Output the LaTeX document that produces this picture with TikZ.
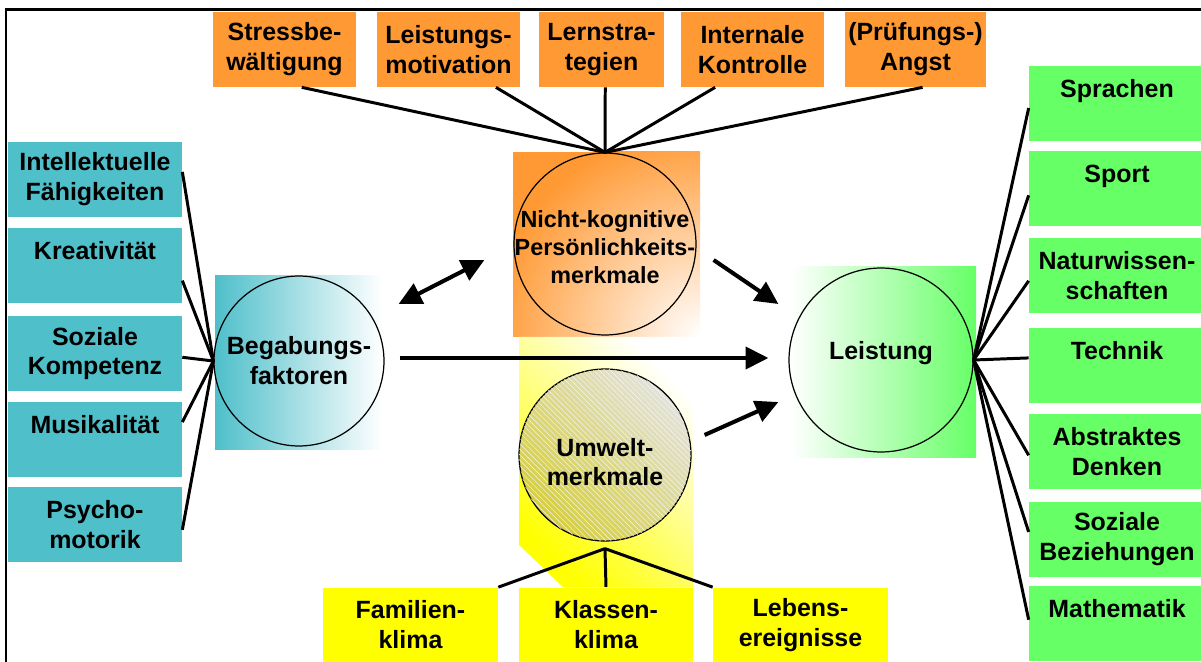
\documentclass[tikz,border=0pt]{standalone}
\usepackage{fontspec}
\setmainfont{Liberation Sans}
\usetikzlibrary{arrows.meta}
\usetikzlibrary{calc}
\usetikzlibrary{patterns.meta}

\definecolor{orangefill}{RGB}{255,153,51}
\definecolor{tealfill}{RGB}{79,191,202}
\definecolor{greenfill}{RGB}{102,255,102}
\definecolor{yellowfill}{RGB}{255,255,0}
\definecolor{olivefill}{RGB}{214,206,60}
\definecolor{greyfill}{RGB}{226,226,218}

\tikzset{
  txt/.style={font=\bfseries\fontsize{14.2}{17}\selectfont, align=center},
  infobox/.style={txt, inner sep=0pt, minimum height=1.5cm},
  orangebox/.style={infobox, fill=orangefill, minimum width=#1},
  tealbox/.style={infobox, fill=tealfill, minimum width=3.48cm},
  greenbox/.style={infobox, fill=greenfill, minimum width=3.52cm},
  yellowbox/.style={infobox, fill=yellowfill, minimum width=3.5cm},
  ring/.style={circle, draw, line width=0.7pt, inner sep=0pt, minimum size=#1},
  fan/.style={line width=1.7pt},
  bigarrow/.style={line width=2.3pt, -{Triangle[length=13pt,width=12.5pt]}},
  botharrow/.style={line width=2.3pt, {Triangle[length=13pt,width=12.5pt]}-{Triangle[length=13pt,width=12.5pt]}},
}

\begin{document}
\begin{tikzpicture}[x=0.02cm,y=-0.02cm]

    \useasboundingbox (0,0) rectangle (1201,662);

    % frame
    \draw [line width=1.7pt] (6,662) -- (6,9.5) -- (1201,9.5);

    % shaded backgrounds
    \shade [left color=tealfill, right color=white] (215,276) rectangle (383,449);
    \shade [left color=white, right color=greenfill] (791,267) rectangle (976,457);
    \begin{scope}
        \clip (513,152) rectangle (700,337);
        \fill [orangefill] (513,152) rectangle (700,337);
        \shade [inner color=white, outer color=orangefill] (700,337) circle (4.2cm);
    \end{scope}
    \shade [bottom color=yellowfill, top color=white, shading angle=-45]
        (519,337) -- (693,337) -- (693,587) -- (563,587) -- (519,545) -- cycle;

    % circles
    \node [ring=3.4cm, label={[txt]center:Begabungs-\\faktoren}] (beg) at (299,361) {};
    \node [ring=3.64cm, label={[txt, font=\bfseries\fontsize{13.3}{16}\selectfont, yshift=-2pt]center:Nicht-kognitive\\Persönlichkeits-\\merkmale}] (nk) at (605,244) {};
    \node [ring=3.44cm, shading=axis, bottom color=olivefill, top color=greyfill, shading angle=-45,
           postaction={pattern={Lines[angle=-45,distance=2.2pt,line width=0.25pt]}, pattern color=white!70!greyfill},
           label={[txt, yshift=-4pt]center:Umwelt-\\merkmale}] (um) at (605,455) {};
    \node [ring=3.68cm, label={[txt, yshift=4pt]center:Leistung}] (leis) at (881,360) {};

    % orange boxes
    \node [orangebox=2.86cm] (s1) at (284.5,49.5) {Stressbe-\\wältigung};
    \node [orangebox=2.86cm] (s2) at (448.5,49.5) {Leistungs-\\motivation};
    \node [orangebox=2.5cm]  (s3) at (601.5,49.5) {Lernstra-\\tegien};
    \node [orangebox=2.86cm] (s4) at (752.5,49.5) {Internale\\Kontrolle};
    \node [orangebox=2.82cm] (s5) at (915.5,49.5) {(Prüfungs-)\\Angst};

    % teal boxes
    \node [tealbox] (b1) at (95,179.5) {Intellektuelle\\Fähigkeiten};
    \node [tealbox] (b2) at (95,265.5) {Kreativität\\\mbox{}};
    \node [tealbox] (b3) at (95,353.5) {Soziale\\Kompetenz};
    \node [tealbox] (b4) at (95,439.5) {Musikalität\\\mbox{}};
    \node [tealbox] (b5) at (95,524.5) {Psycho-\\motorik};

    % green boxes
    \node [greenbox] (g1) at (1117,103.5) {Sprachen\\\mbox{}};
    \node [greenbox] (g2) at (1117,188.5) {Sport\\\mbox{}};
    \node [greenbox] (g3) at (1117,275.5) {Naturwissen-\\schaften};
    \node [greenbox] (g4) at (1117,365.5) {Technik\\\mbox{}};
    \node [greenbox] (g5) at (1117,451.5) {Abstraktes\\Denken};
    \node [greenbox] (g6) at (1117,539.5) {Soziale\\Beziehungen};
    \node [greenbox] (g7) at (1117,623.5) {Mathematik\\\mbox{}};

    % yellow boxes
    \node [yellowbox] (y1) at (410.5,625) {Familien-\\klima};
    \node [yellowbox] (y2) at (606,625) {Klassen-\\klima};
    \node [yellowbox] (y3) at (800.5,625) {Lebens-\\ereignisse};

    % fan lines
    \foreach \b/\f in {s1/0.62, s2/0.83, s3/0.53, s4/0.24, s5/0.55}
        \draw [fan] ($(\b.south west)!\f!(\b.south east)$) -- (nk.north);
    \foreach \b/\f in {b1/0.4, b2/0.7, b3/0.55, b4/0.27, b5/0.57}
        \draw [fan] ($(\b.north east)!\f!(\b.south east)$) -- (beg.west);
    \foreach \b/\f in {g1/0.56, g2/0.59, g3/0.57, g4/0.4, g5/0.55, g6/0.4, g7/0.45}
        \draw [fan] ($(\b.north west)!\f!(\b.south west)$) -- (leis.east);
    \draw [fan] ([yshift=-4pt]um.south) -- (y1.north east);
    \draw [fan] ([yshift=-4pt]um.south) -- (y2.north);
    \draw [fan] ([yshift=-4pt]um.south) -- (y3.north west);

    % arrows
    \draw [botharrow] ([shift={(14,-57)}]beg.east) -- ([shift={(-29,16)}]nk.west);
    \draw [bigarrow] ([shift={(15,-3)}]beg.east) -- ([shift={(-20,-2)}]leis.west);
    \draw [bigarrow] ([shift={(17,16)}]nk.east) -- ([shift={(-10,-56)}]leis.west);
    \draw [bigarrow] ([shift={(13,-20)}]um.east) -- ([shift={(-10,42)}]leis.west);

\end{tikzpicture}
\end{document}
